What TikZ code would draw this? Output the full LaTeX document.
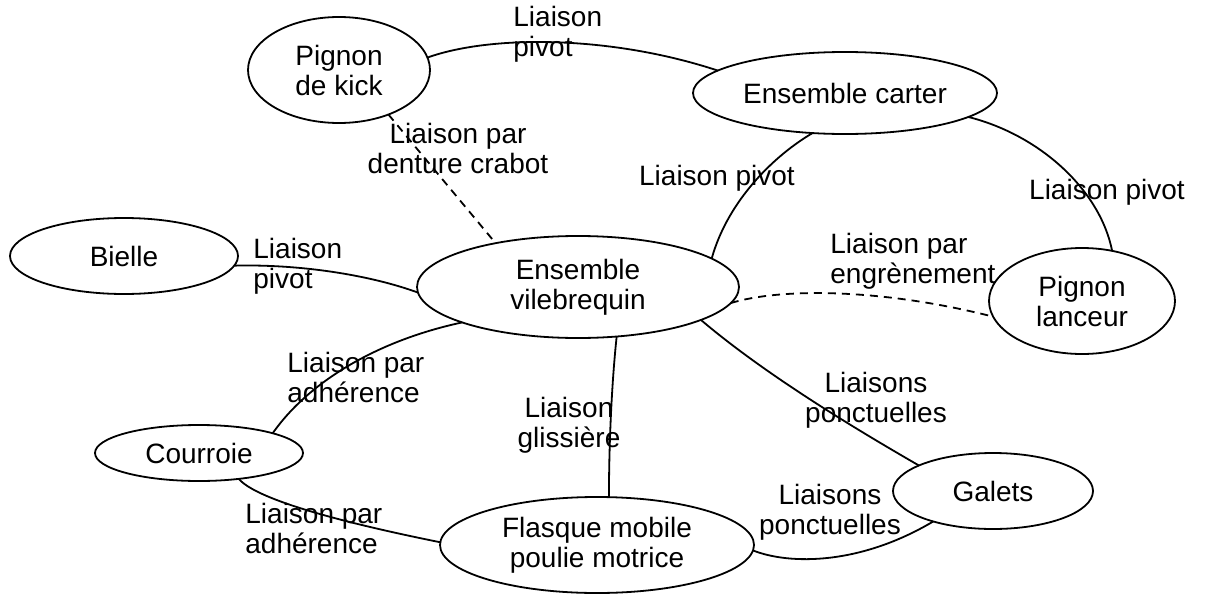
\documentclass[tikz,border=0pt]{standalone}
\usepackage{fontspec}
\setmainfont{Liberation Sans}
\usetikzlibrary{shapes.geometric}
\begin{document}
\begin{tikzpicture}[x=0.5pt,y=-0.5pt,
  part/.style={draw,ellipse,line width=0.9pt,inner sep=0pt,outer sep=0pt,align=center,font=\fontsize{14}{15}\selectfont},
  lbl/.style={inner sep=0pt,align=left,font=\fontsize{14}{15}\selectfont},
  lblc/.style={inner sep=0pt,align=center,font=\fontsize{14}{15}\selectfont},
  link/.style={line width=0.9pt},
  dlink/.style={line width=0.9pt,dash pattern=on 4pt off 3pt}]
\useasboundingbox (0,0) rectangle (1221,594);
% parts
\node[part,minimum width=91pt,minimum height=53pt] (kick) at (339,70) {Pignon\\de kick};
\node[part,minimum width=152pt,minimum height=41pt] (carter) at (845,93) {Ensemble carter};
\node[part,minimum width=114pt,minimum height=38pt] (bielle) at (124,256) {Bielle};
\node[part,minimum width=161pt,minimum height=51pt] (vile) at (578,287) {Ensemble\\vilebrequin};
\node[part,minimum width=93pt,minimum height=53pt] (lanceur) at (1082,301) {Pignon\\lanceur};
\node[part,minimum width=104pt,minimum height=28pt] (courroie) at (199,453) {Courroie};
\node[part,minimum width=157pt,minimum height=48pt] (flasque) at (597,545) {Flasque mobile\\poulie motrice};
\node[part,minimum width=100pt,minimum height=38pt] (galets) at (993,491) {Galets};
% labels
\node[lbl,anchor=west] (t1) at (513,34) {Liaison\\pivot};
\node[lblc] (t2) at (458,148) {Liaison par\\denture crabot};
\node[lblc] (t3) at (717,178) {Liaison pivot};
\node[lblc] (t4) at (1107,192) {Liaison pivot};
\node[lbl,anchor=west] (t5) at (253,266) {Liaison\\pivot};
\node[lbl,anchor=west] (t6) at (830,261) {Liaison par\\engrènement};
\node[lbl,anchor=west] (t7) at (287,377) {Liaison par\\adhérence};
\node[lblc] (t8) at (569,425) {Liaison\\glissière};
\node[lblc] (t9) at (876,400) {Liaisons\\ponctuelles};
\node[lblc] (t10) at (830,512) {Liaisons\\ponctuelles};
\node[lbl,anchor=west] (t11) at (245,528) {Liaison par\\adhérence};
% links
\draw[link] (kick.8) .. controls (490,35) and (610,35) .. (carter.170);
\draw[dlink] (kick.-42) -- (vile.152);
\draw[link] (carter.231) .. controls (775,155) and (728,200) .. (vile.12);
\draw[link] (carter.-11) .. controls (1040,135) and (1100,190) .. (lanceur.59);
\draw[link] (bielle.-5) .. controls (300,264) and (370,275) .. (vile.182);
\draw[dlink] (vile.-6) .. controls (780,288) and (880,288) .. (lanceur.190);
\draw[link] (vile.197) .. controls (380,340) and (310,380) .. (courroie.15);
\draw[link] (vile.-52) .. controls (612,380) and (609,440) .. (flasque.76);
\draw[link] (vile.-15) .. controls (760,370) and (840,420) .. (galets.161);
\draw[link] (courroie.-33) .. controls (255,498) and (330,520) .. (flasque.179);
\draw[link] (flasque.-2) .. controls (790,565) and (860,565) .. (galets.207);
\end{tikzpicture}
\end{document}
